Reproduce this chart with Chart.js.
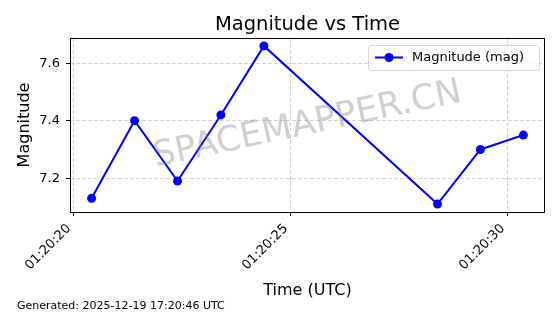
<!DOCTYPE html>
<html>
<head>
<meta charset="utf-8">
<script src="https://cdn.jsdelivr.net/npm/chart.js@4"></script>
<style>
  body { margin: 0; background: #fff; }
  #wrap { width: 560px; height: 314px; }
</style>
</head>
<body>
<div id="wrap"><canvas id="myChart" width="560" height="314"></canvas></div>
<script>
// data
var timeLabels = ['01:20:20.42', '01:20:21.41', '01:20:22.40', '01:20:23.40',
                  '01:20:24.39', '01:20:28.39', '01:20:29.38', '01:20:30.37'];
var magnitudes = [7.13, 7.40, 7.19, 7.42, 7.66, 7.11, 7.30, 7.35];
var xTickLabels = ['01:20:20', '01:20:25', '01:20:30'];
var yTickValues = [7.2, 7.4, 7.6];

var FONT = '"DejaVu Sans", sans-serif';

function toSeconds(s) {
    var p = s.split(':');
    return (+p[0]) * 3600 + (+p[1]) * 60 + parseFloat(p[2]);
}

var xs = timeLabels.map(toSeconds);
var points = xs.map(function (x, i) { return { x: x, y: magnitudes[i] }; });

// matplotlib style 5% margins
var xMin = Math.min.apply(null, xs), xMax = Math.max.apply(null, xs);
var yMin = Math.min.apply(null, magnitudes), yMax = Math.max.apply(null, magnitudes);
var xPad = (xMax - xMin) * 0.05, yPad = (yMax - yMin) * 0.05;

var xTickValues = xTickLabels.map(toSeconds);

var decor = {
    id: 'decor',
    afterDatasetsDraw: function (chart) {
        var c = chart.ctx, a = chart.chartArea;
        // watermark
        c.save();
        c.translate((a.left + a.right) / 2, (a.top + a.bottom) / 2);
        c.rotate(-12 * Math.PI / 180);
        c.font = '35px ' + FONT;
        c.fillStyle = 'rgba(128,128,128,0.38)';
        c.textAlign = 'center';
        c.textBaseline = 'middle';
        c.fillText('SPACEMAPPER.CN', 0, 0);
        c.restore();
    },
    afterDraw: function (chart) {
        var c = chart.ctx, a = chart.chartArea;
        var xScale = chart.scales.x;
        c.save();
        // spines
        c.strokeStyle = '#000';
        c.lineWidth = 1;
        c.strokeRect(a.left + 0.5, a.top + 0.5, a.right - a.left - 1, a.bottom - a.top);

        // x tick labels, rotated 45 and right aligned like matplotlib
        c.fillStyle = '#000';
        c.font = '13px ' + FONT;
        c.textAlign = 'right';
        c.textBaseline = 'top';
        var h = 15, s45 = Math.SQRT1_2;
        xTickValues.forEach(function (v, i) {
            var px = xScale.getPixelForValue(v);
            c.save();
            c.translate(px - h * s45 + 1.5, a.bottom + 10);
            c.rotate(-Math.PI / 4);
            c.fillText(xTickLabels[i], 0, 0);
            c.restore();
        });

        // title
        c.font = '19.5px ' + FONT;
        c.textAlign = 'center';
        c.textBaseline = 'alphabetic';
        c.fillText('Magnitude vs Time', (a.left + a.right) / 2, 30);

        // axis titles
        c.font = '16px ' + FONT;
        c.fillText('Time (UTC)', (a.left + a.right) / 2, 295);
        c.save();
        c.translate(29, (a.top + a.bottom) / 2);
        c.rotate(-Math.PI / 2);
        c.fillText('Magnitude', 0, 0);
        c.restore();

        // footer
        c.font = '11px ' + FONT;
        c.textAlign = 'left';
        c.fillText('Generated: 2025-12-19 17:20:46 UTC', 17, 309);

        // legend
        var lx = 368, ly = 45, lw = 171, lh = 25;
        c.fillStyle = 'rgba(255,255,255,0.8)';
        c.strokeStyle = '#d6d6d6';
        c.beginPath();
        c.roundRect(lx + 0.5, ly + 0.5, lw, lh, 3);
        c.fill();
        c.stroke();
        c.strokeStyle = '#0000ff';
        c.lineWidth = 2;
        c.beginPath();
        c.moveTo(375, 57.5);
        c.lineTo(403, 57.5);
        c.stroke();
        c.fillStyle = '#0000ff';
        c.beginPath();
        c.arc(389, 57.5, 4.5, 0, Math.PI * 2);
        c.fill();
        c.fillStyle = '#000';
        c.font = '13px ' + FONT;
        c.textBaseline = 'middle';
        c.fillText('Magnitude (mag)', 412, 58);
        c.restore();
    }
};

var ctx = document.getElementById('myChart').getContext('2d');
var myChart = new Chart(ctx, {
    type: 'line',
    data: {
        datasets: [{
            label: 'Magnitude (mag)',
            data: points,
            borderColor: '#0000ff',
            backgroundColor: '#0000ff',
            borderWidth: 2,
            pointRadius: 4.5,
            pointHoverRadius: 4.5,
            pointBorderWidth: 0,
            tension: 0
        }]
    },
    options: {
        responsive: false,
        animation: false,
        events: [],
        layout: { padding: { top: 38, right: 15, left: 0, bottom: 0 } },
        plugins: {
            legend: { display: false },
            title: { display: false },
            tooltip: { enabled: false }
        },
        scales: {
            x: {
                type: 'linear',
                min: xMin - xPad,
                max: xMax + xPad,
                afterBuildTicks: function (scale) {
                    scale.ticks = xTickValues.map(function (v) { return { value: v }; });
                },
                afterFit: function (scale) { scale.height = 102; },
                ticks: { display: false, autoSkip: false },
                grid: {
                    color: 'rgba(176,176,176,0.7)',
                    lineWidth: 0.8,
                    tickColor: '#000',
                    tickWidth: 1,
                    tickLength: 4,
                    tickBorderDash: []
                },
                border: { display: false, dash: [4, 2] }
            },
            y: {
                type: 'linear',
                min: yMin - yPad,
                max: yMax + yPad,
                afterBuildTicks: function (scale) {
                    scale.ticks = yTickValues.map(function (v) { return { value: v }; });
                },
                afterFit: function (scale) { scale.width = 70; },
                ticks: {
                    padding: 6,
                    color: '#000',
                    font: { family: FONT, size: 13 },
                    callback: function (v) { return v.toFixed(1); }
                },
                grid: {
                    color: 'rgba(176,176,176,0.7)',
                    lineWidth: 0.8,
                    tickColor: '#000',
                    tickWidth: 1,
                    tickLength: 4,
                    tickBorderDash: []
                },
                border: { display: false, dash: [4, 2] }
            }
        }
    },
    plugins: [decor]
});
</script>
</body>
</html>
